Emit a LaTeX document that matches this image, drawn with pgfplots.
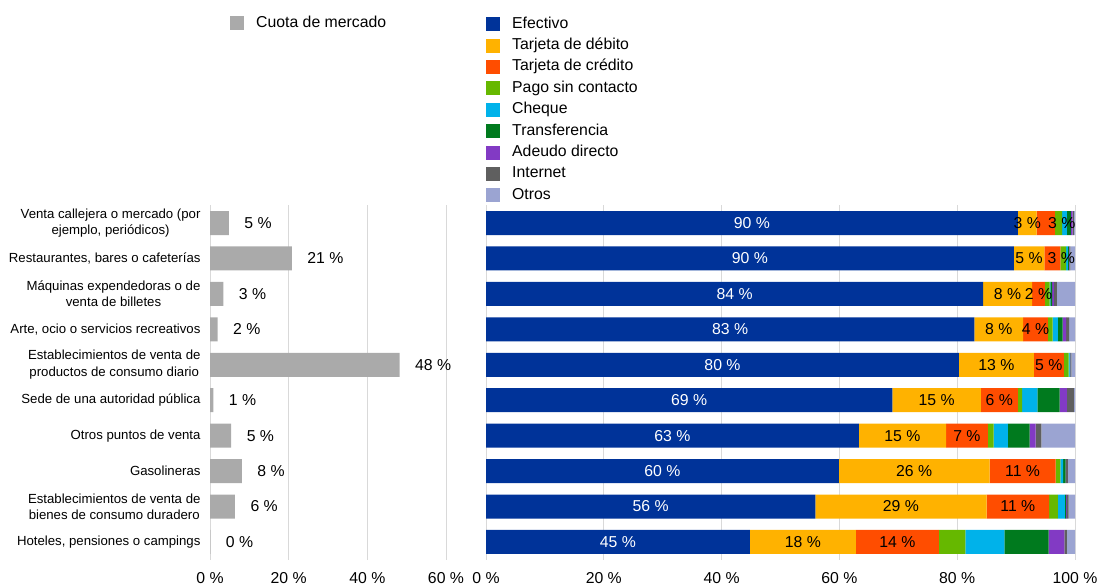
\documentclass[border=0pt]{standalone}
\usepackage{fontspec}
\setmainfont{Liberation Sans}
\usepackage{pgfplots}
\usepackage{pgfplotstable}
\pgfplotsset{compat=1.18}

\definecolor{cCuota}{RGB}{170,170,170}
\definecolor{cEfe}{RGB}{0,51,153}
\definecolor{cDeb}{RGB}{255,178,0}
\definecolor{cCre}{RGB}{255,77,0}
\definecolor{cCon}{RGB}{102,184,0}
\definecolor{cChe}{RGB}{0,178,234}
\definecolor{cTra}{RGB}{0,122,30}
\definecolor{cAde}{RGB}{130,58,196}
\definecolor{cInt}{RGB}{95,95,95}
\definecolor{cOtr}{RGB}{155,164,210}
\definecolor{gridc}{RGB}{217,217,217}

\newcommand{\valfont}{\fontsize{15.8}{18}\selectfont}
\newcommand{\catfont}{\fontsize{13.2}{16.5}\selectfont}

% row: 0 = top category
\pgfplotstableread{
row cuota
0 4.8
1 20.8
2 3.4
3 1.96
4 48.2
5 0.85
6 5.4
7 8.1
8 6.35
9 0.1
}\cuota

% sh: sideways nudge (pt) of the credit-card label where segments are thin
\pgfplotstableread{
row efe  deb  cre  con  che  tra  ade  int  otr sh
0   90.3 3.2  3.1  1.2  0.8  0.7  0.3  0.2  0.2 16
1   89.6 5.2  2.7  1.0  0.3  0.2  0.1  0.1  0.8 9
2   84.4 8.3  2.2  0.8  0.1  0.3  0.3  0.5  3.1 0
3   82.9 8.3  4.2  0.8  0.9  0.8  0.6  0.5  1.0 0
4   80.3 12.7 5.1  0.8  0.2  0.1  0.1  0.1  0.6 0
5   69.0 15.0 6.3  0.7  2.6  3.8  1.2  1.2  0.2 0
6   63.3 14.8 7.1  1.0  2.4  3.7  1.0  1.0  5.7 0
7   59.9 25.6 11.2 0.8  0.5  0.4  0.1  0.3  1.2 0
8   55.9 29.1 10.6 1.5  1.2  0.2  0.1  0.3  1.1 0
9   44.8 18.0 14.1 4.5  6.6  7.5  2.7  0.4  1.4 0
}\medios

\pgfplotsset{
  sq/.style={draw=none, fill=#1,
    legend image code/.code={\fill[##1] (0pt,-7pt) rectangle (14pt,7pt);}},
  panel/.style={
    scale only axis, height=354.4pt,
    ymin=-0.5, ymax=9.5, y dir=reverse, ytick={0,...,9},
    enlargelimits=false,
    axis line style={draw=none}, major tick length=0pt,
    xmajorgrids, major grid style={draw=gridc, line width=0.8pt},
    tick label style={font=\valfont},
    xticklabel style={yshift=-9pt},
    bar width=24pt,
    legend cell align=left,
    legend style={draw=none, fill=none, inner sep=0pt, anchor=north west,
      font=\valfont, column sep=10pt,
      nodes={text height=11.5pt, text depth=3.5pt, inner ysep=3.2pt}},
  },
}

\begin{document}
\begin{tikzpicture}
\useasboundingbox (0,0) rectangle (1098pt,-586pt);

\begin{axis}[panel, at={(210pt,-559.7pt)}, anchor=south west, width=236pt,
  xbar, xmin=0, xmax=60, xtick={0,20,40,60},
  xticklabels={0~\%,20~\%,40~\%,60~\%},
  yticklabels={{Venta callejera o mercado (por\\ejemplo, periódicos)},
    {Restaurantes, bares o cafeterías},
    {Máquinas expendedoras o de\\venta de billetes},
    {Arte, ocio o servicios recreativos},
    {Establecimientos de venta de\\productos de consumo diario},
    {Sede de una autoridad pública},
    {Otros puntos de venta},
    {Gasolineras},
    {Establecimientos de venta de\\bienes de consumo duradero},
    {Hoteles, pensiones o campings}},
  yticklabel style={font=\catfont, align=center, xshift=-6pt},
  point meta=x,
  nodes near coords={\pgfmathprintnumber[fixed,precision=0,assume math mode=true]{\pgfplotspointmeta}~\%},
  nodes near coords style={font=\valfont, xshift=12pt},
  legend style={at={(0.0847,1.5446)}},
]
\addplot[sq=cCuota] table[x=cuota, y=row] {\cuota};
\addlegendentry{Cuota de mercado}
\end{axis}

\begin{axis}[panel, at={(486pt,-559.7pt)}, anchor=south west, width=589pt,
  xbar stacked, xmin=0, xmax=100, xtick={0,20,...,100},
  xticklabels={0~\%,20~\%,40~\%,60~\%,80~\%,100~\%},
  yticklabels={},
  visualization depends on={rawx \as \rawx},
  lbl/.style={nodes near coords={\pgfmathprintnumber[fixed,precision=0,assume math mode=true]{\rawx}~\%},
    every node near coord/.style={font=\valfont, anchor=center, text=#1}},
  legend style={at={(0,1.5418)}},
]
\addplot[sq=cEfe, lbl=white] table[x=efe, y=row] {\medios};
\addlegendentry{Efectivo}
\addplot[sq=cDeb, lbl=black] table[x=deb, y=row] {\medios};
\addlegendentry{Tarjeta de débito}
\addplot[sq=cCre, lbl=black,
  visualization depends on={\thisrow{sh} \as \sh},
  every node near coord/.append style={xshift=\sh pt}] table[x=cre, y=row] {\medios};
\addlegendentry{Tarjeta de crédito}
\addplot[sq=cCon] table[x=con, y=row] {\medios};
\addlegendentry{Pago sin contacto}
\addplot[sq=cChe] table[x=che, y=row] {\medios};
\addlegendentry{Cheque}
\addplot[sq=cTra] table[x=tra, y=row] {\medios};
\addlegendentry{Transferencia}
\addplot[sq=cAde] table[x=ade, y=row] {\medios};
\addlegendentry{Adeudo directo}
\addplot[sq=cInt] table[x=int, y=row] {\medios};
\addlegendentry{Internet}
\addplot[sq=cOtr] table[x=otr, y=row] {\medios};
\addlegendentry{Otros}
\end{axis}
\end{tikzpicture}
\end{document}
